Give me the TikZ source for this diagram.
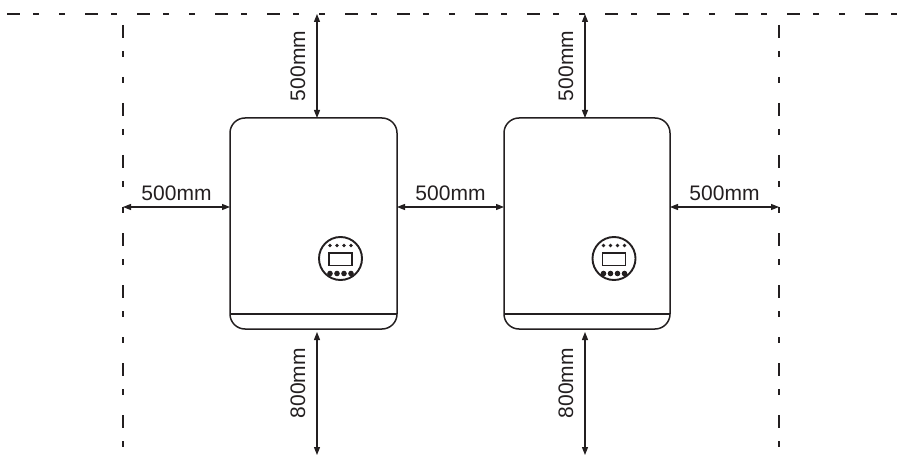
\documentclass[tikz,border=0pt]{standalone}
\usepackage{fontspec}
\setmainfont{Liberation Sans}
\usetikzlibrary{arrows.meta,calc}
\definecolor{ink}{HTML}{231F20}

\tikzset{
  guide/.style={draw=ink, line width=1.3pt, dash pattern=on 13pt off 13pt on 6pt off 20pt on 6pt off 20pt on 13pt off 13pt on 6pt off 20pt},
  unit/.style={draw=ink, line width=1.5pt, rounded corners=15pt, minimum width=#1, minimum height=211pt, inner sep=0pt, outer sep=0pt},
  clear/.style={draw=ink, line width=1.2pt, {Triangle[length=8pt,width=6pt]}-{Triangle[length=8pt,width=6pt]}},
  lbl/.style={text=ink, font=\fontsize{21}{22}\selectfont, inner sep=1pt},
}

\begin{document}
\begin{tikzpicture}[x=1pt,y=-1pt]
\useasboundingbox (0,0) rectangle (910,457);

% wall and side limits
\coordinate (wl) at (0,14);
\coordinate (wr) at (910,14);
\coordinate (sl) at (123,14);
\coordinate (sr) at (779,14);
\draw[guide, dash phase=123pt] (wl) -- (wr);
\draw[guide, dash phase=119pt] (sl) -- (123,457);
\draw[guide, dash phase=119pt] (sr) -- (779,457);

% the two inverters
\node[unit=167pt] (U1) at (313.5,223.5) {};
\node[unit=166pt] (U2) at (587,223.5) {};

\coordinate (dv) at (0,314);
\foreach \u in {U1,U2}{
  \draw[ink, line width=1.5pt] (\u.west |- dv) -- (\u.east |- dv);
  % display panel
  \begin{scope}[shift={($(\u.center)+(27,35)$)}]
    \draw[ink, line width=1.9pt] (0,0) circle (21.5);
    \draw[ink, line width=1.3pt] (-11.5,-5.5) rectangle (11.5,7);
    \foreach \k in {-10.5,-3.5,3.5,10.5}{
      \fill[ink] (\k,-13) circle (1.8);
      \fill[ink] (\k,15) circle (2.8);
    }
  \end{scope}
}

% clearances
\coordinate (a1) at (317,14);
\coordinate (a2) at (585,14);
\coordinate (b1) at (317,455);
\coordinate (b2) at (585,455);
\coordinate (ml) at (123,207);
\coordinate (mr) at (779,207);

\draw[clear] (a1) -- (a1 |- U1.north) node[lbl, midway, xshift=-10pt, rotate=90, anchor=south] {500mm};
\draw[clear] (a2) -- (a2 |- U2.north) node[lbl, midway, xshift=-10pt, rotate=90, anchor=south] {500mm};
\draw[clear, shorten <=3pt] (U1.south -| b1) -- (b1) node[lbl, pos=0.43, xshift=-10pt, rotate=90, anchor=south] {800mm};
\draw[clear, shorten <=3pt] (U2.south -| b2) -- (b2) node[lbl, pos=0.43, xshift=-10pt, rotate=90, anchor=south] {800mm};

\draw[clear] (ml) -- (ml -| U1.west) node[lbl, midway, above=5pt] {500mm};
\draw[clear] (ml -| U1.east) -- (ml -| U2.west) node[lbl, midway, above=5pt] {500mm};
\draw[clear] (ml -| U2.east) -- (mr) node[lbl, midway, above=5pt] {500mm};
\end{tikzpicture}
\end{document}
